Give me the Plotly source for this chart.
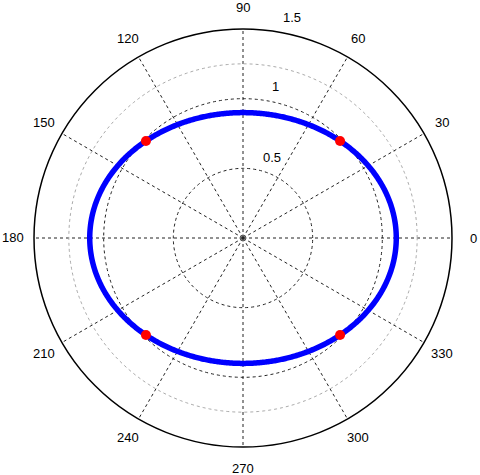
import numpy as np
import plotly.graph_objects as go

# Data
semi_axis_x = 1.1   # ellipse extent along 0/180 deg
semi_axis_y = 0.9   # ellipse extent along 90/270 deg
marker_angles = [45, 135, 225, 315]
angle_ticks = [0, 30, 60, 90, 120, 150, 180, 210, 240, 270, 300, 330]
radial_ticks = [0.5, 1, 1.5]
radial_tick_labels = ["0.5", "1", "1.5"]
r_max = 1.5

def ellipse_r(theta_deg):
    t = np.deg2rad(theta_deg)
    a, b = semi_axis_x, semi_axis_y
    return a * b / np.sqrt((b * np.cos(t)) ** 2 + (a * np.sin(t)) ** 2)

theta = np.linspace(0, 360, 721)
r = ellipse_r(theta)

fig = go.Figure()

# extra light ring
fig.add_trace(go.Scatterpolar(r=[1.25] * 361, theta=np.arange(361), mode="lines",
                              line=dict(color="#aaaaaa", width=1, dash="dot"),
                              hoverinfo="skip", showlegend=False))
fig.add_trace(go.Scatterpolar(r=r, theta=theta, mode="lines",
                              line=dict(color="#0000ff", width=5.5),
                              showlegend=False))
fig.add_trace(go.Scatterpolar(r=ellipse_r(np.array(marker_angles)), theta=marker_angles,
                              mode="markers", marker=dict(color="#ff0000", size=10),
                              showlegend=False))
fig.add_trace(go.Scatterpolar(r=[0], theta=[0], mode="markers",
                              marker=dict(color="rgba(0,0,0,0)", size=6,
                                          line=dict(color="#555555", width=1)),
                              showlegend=False))

W, H = 480, 475
ml, mr, mt, mb = 34, 28, 29, 28
cx, cy = 243, 238   # page pixels

def to_paper(px, py):
    return (px - ml) / (W - ml - mr), (H - mb - py) / (H - mt - mb)

annotations = []
for a in angle_ticks:
    px = cx + 230 * np.cos(np.deg2rad(a))
    py = cy - 230 * np.sin(np.deg2rad(a))
    x, y = to_paper(px, py)
    annotations.append(dict(x=x, y=y, xref="paper", yref="paper", text=str(a),
                            showarrow=False, xanchor="center", yanchor="middle",
                            font=dict(size=13, color="#000000", family="Liberation Sans")))
radial_label_px = {"0.5": (272, 157), "1": (275, 87), "1.5": (292, 18)}
for lab in radial_tick_labels:
    px, py = radial_label_px[lab]
    x, y = to_paper(px, py)
    annotations.append(dict(x=x, y=y, xref="paper", yref="paper", text=lab,
                            showarrow=False, xanchor="center", yanchor="middle",
                            font=dict(size=13, color="#000000", family="Liberation Sans")))

fig.update_layout(
    width=W, height=H,
    margin=dict(l=ml, r=mr, t=mt, b=mb),
    paper_bgcolor="white", plot_bgcolor="white",
    polar=dict(
        bgcolor="white",
        domain=dict(x=[0, 1], y=[0, 1]),
        radialaxis=dict(range=[0, r_max], tickvals=radial_ticks[:-1], showticklabels=False,
                        ticks="", showline=False, gridcolor="#222222", griddash="dot",
                        gridwidth=1),
        angularaxis=dict(direction="counterclockwise", rotation=0, tickvals=angle_ticks,
                         showticklabels=False, ticks="", gridcolor="#222222",
                         griddash="dot", gridwidth=1, showline=True,
                         linecolor="#000000", linewidth=1.5),
    ),
    annotations=annotations,
    showlegend=False,
)

fig.write_html("out.html", config={"displayModeBar": False},
               post_script="document.body.style.margin='0';")
